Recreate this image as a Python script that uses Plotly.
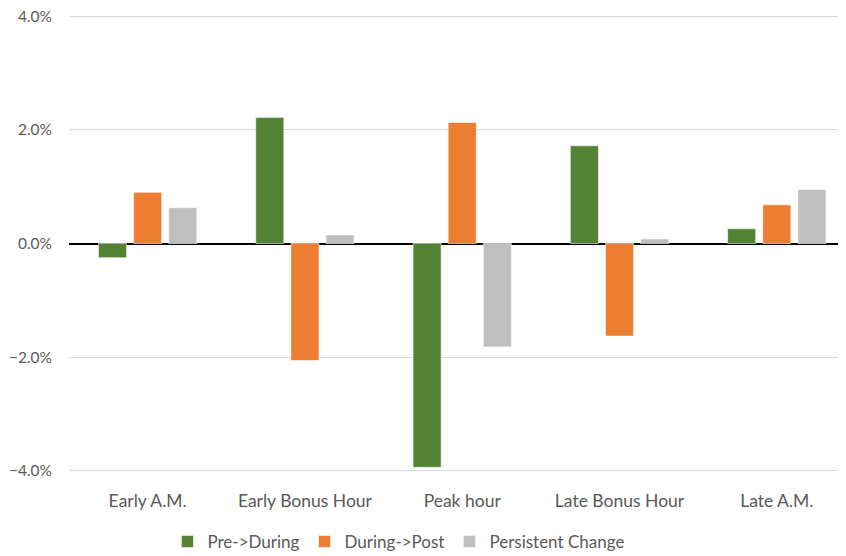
import plotly.graph_objects as go

categories = ["Early A.M.", "Early Bonus Hour", "Peak hour", "Late Bonus Hour", "Late A.M."]
pre_during = [-0.0025, 0.0222, -0.0394, 0.0172, 0.0026]
during_post = [0.0090, -0.0206, 0.0213, -0.0163, 0.0068]
persistent = [0.0063, 0.0015, -0.0182, 0.0008, 0.0095]
y_ticks = [-0.04, -0.02, 0.0, 0.02, 0.04]

FONT = "Lato, 'Open Sans', sans-serif"
line = dict(color="rgba(255,255,255,0.55)", width=1)

fig = go.Figure()
fig.add_trace(go.Bar(x=categories, y=pre_during, name="Pre->During",
                     marker=dict(color="#548235", line=line)))
fig.add_trace(go.Bar(x=categories, y=during_post, name="During->Post",
                     marker=dict(color="#ED7D31", line=line)))
fig.add_trace(go.Bar(x=categories, y=persistent, name="Persistent Change",
                     marker=dict(color="#BFBFBF", line=line)))

# page body has an 8px default margin, so the figure is sized/offset to compensate
fig.update_layout(
    width=838, height=548,
    margin=dict(l=61, r=0, t=6, b=83, autoexpand=False),
    paper_bgcolor="white", plot_bgcolor="white",
    barmode="group", bargap=0.33, bargroupgap=0.2,
    font=dict(family=FONT, size=17.5, color="#595959"),
    showlegend=True,
    legend=dict(orientation="h", x=0.424, xanchor="center", y=-0.15, yanchor="middle",
                font=dict(family=FONT, size=17, color="#595959"),
                itemwidth=30, tracegroupgap=0),
)
fig.update_xaxes(type="category", range=[-0.5, 4.44], showgrid=False, automargin=False,
                 ticks="", showline=False, tickfont=dict(size=17.5, color="#595959"),
                 ticklabelstandoff=15)
fig.update_yaxes(range=[-0.0404, 0.0404], tickvals=y_ticks, tickformat=".1%", automargin=False,
                 showgrid=True, gridcolor="#D9D9D9", gridwidth=1,
                 zeroline=True, zerolinecolor="#000000", zerolinewidth=1.5,
                 showline=False, ticks="", tickfont=dict(size=15.5, color="#595959"),
                 ticklabelstandoff=16, ticklabeloverflow="allow")

fig.write_html("out.html")
